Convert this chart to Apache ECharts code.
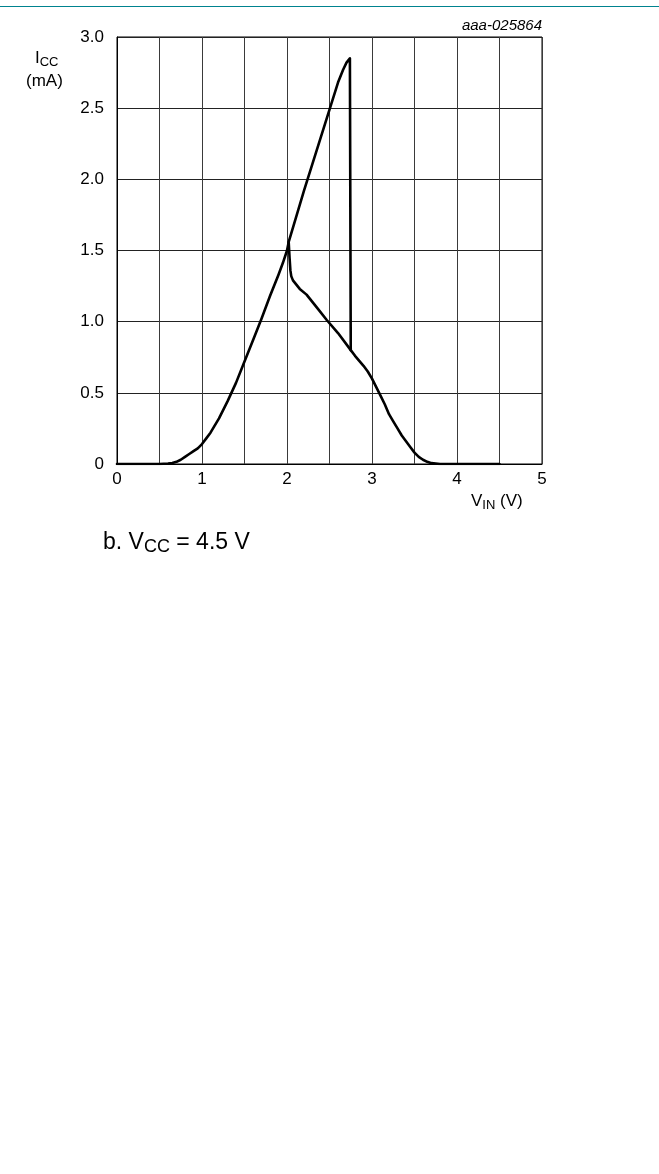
<!DOCTYPE html>
<html>
<head>
<meta charset="utf-8">
<script src="https://cdn.jsdelivr.net/npm/echarts@6/dist/echarts.min.js"></script>
<style>
  html, body { margin: 0; padding: 0; background: #fff; }
  #chart { width: 659px; height: 1174px; }
</style>
</head>
<body>
<div id="chart"></div>
<script>
// V_IN (V) / I_CC (mA), rising sweep incl. peak, drop and falling tail
const sweepV = [0, 0.5, 0.6, 0.65, 0.7, 0.75, 0.8, 0.85, 0.9, 0.95, 1.0, 1.05, 1.1, 1.2, 1.3, 1.4, 1.5, 1.6, 1.7, 1.8, 1.9, 1.95, 2.0, 2.02,
  2.1, 2.2, 2.3, 2.4, 2.5, 2.6, 2.66, 2.7, 2.74, 2.75, 2.75, 2.8, 2.9, 2.95, 3.0, 3.05, 3.1, 3.15, 3.2, 3.25, 3.3, 3.35, 3.4, 3.45, 3.5,
  3.55, 3.6, 3.65, 3.7, 3.8, 4.5]
const sweepI = [0, 0, 0.003, 0.007, 0.015, 0.03, 0.05, 0.07, 0.09, 0.11, 0.14, 0.18, 0.22, 0.32, 0.44, 0.57, 0.72, 0.87, 1.02, 1.18, 1.33, 1.41, 1.5, 1.56,
  1.72, 1.92, 2.11, 2.3, 2.49, 2.68, 2.77, 2.82, 2.85, 2.84, 0.8, 0.76, 0.69, 0.65, 0.6, 0.54, 0.48, 0.42, 0.35, 0.3, 0.25, 0.2, 0.16, 0.12, 0.08,
  0.05, 0.03, 0.015, 0.006, 0, 0]

// return branch between the drop and the rising sweep
const returnV = [2.75, 2.6, 2.47, 2.35, 2.23, 2.15, 2.11, 2.07, 2.05, 2.04, 2.03, 2.02]
const returnI = [0.8, 0.92, 1.01, 1.1, 1.19, 1.23, 1.26, 1.29, 1.32, 1.36, 1.45, 1.56]

const xTickLabels = ['0', '1', '2', '3', '4', '5']
const yTickLabels = ['0', '0.5', '1.0', '1.5', '2.0', '2.5', '3.0']

const font = 'Arial, "Liberation Sans", sans-serif'

function pairs(xs, ys) {
  return xs.map((x, i) => [x, ys[i]])
}

const chart = echarts.init(document.getElementById('chart'), null, { renderer: 'canvas' })

chart.setOption({
  animation: false,
  backgroundColor: '#fff',
  grid: {
    left: 117, right: 117, top: 37, bottom: 710,
    show: true, borderColor: '#000', borderWidth: 1
  },
  xAxis: {
    type: 'value', min: 0, max: 5, interval: 0.5,
    axisLine: { show: true, lineStyle: { color: '#000', width: 1 } },
    axisTick: { show: false },
    splitLine: { show: true, lineStyle: { color: '#3a3a3a', width: 1 } },
    axisLabel: {
      margin: 7, color: '#000', fontSize: 17, fontFamily: font,
      formatter: v => (Math.abs(v - Math.round(v)) < 1e-6 ? xTickLabels[Math.round(v)] : '')
    }
  },
  yAxis: {
    type: 'value', min: 0, max: 3, interval: 0.5,
    axisLine: { show: true, lineStyle: { color: '#000', width: 1 } },
    axisTick: { show: false },
    splitLine: { show: true, lineStyle: { color: '#222', width: 1 } },
    axisLabel: {
      margin: 13, color: '#000', fontSize: 17, fontFamily: font,
      formatter: v => yTickLabels[Math.round(v * 2)]
    }
  },
  series: [
    {
      type: 'line', data: pairs(sweepV, sweepI), showSymbol: false, smooth: false,
      lineStyle: { color: '#000', width: 2.6, join: 'round', cap: 'round' }
    },
    {
      type: 'line', data: pairs(returnV, returnI), showSymbol: false, smooth: false,
      lineStyle: { color: '#000', width: 2.6, join: 'round', cap: 'round' }
    }
  ],
  graphic: [
    {
      type: 'line', shape: { x1: 0, y1: 6.5, x2: 659, y2: 6.5 },
      style: { stroke: '#00838f', lineWidth: 1.2 }
    },
    {
      type: 'text', left: 35, top: 50,
      style: {
        text: '{m|I}{s|CC}', fontFamily: font,
        rich: {
          m: { fontSize: 17, fill: '#000', fontFamily: font },
          s: { fontSize: 13, fill: '#000', fontFamily: font, padding: [8, 0, 0, 0] }
        }
      }
    },
    {
      type: 'text', left: 26, top: 73,
      style: { text: '(mA)', fontSize: 17, fill: '#000', fontFamily: font }
    },
    {
      type: 'text', left: 471, top: 493,
      style: {
        text: '{m|V}{s|IN}{m| (V)}', fontFamily: font,
        rich: {
          m: { fontSize: 17, fill: '#000', fontFamily: font },
          s: { fontSize: 13, fill: '#000', fontFamily: font, padding: [8, 0, 0, 0] }
        }
      }
    },
    {
      type: 'text', right: 117, top: 18,
      style: { text: 'aaa-025864', fontSize: 15, fontStyle: 'italic', fill: '#000', fontFamily: font }
    },
    {
      type: 'text', left: 103, top: 531,
      style: {
        text: '{m|b. V}{s|CC}{m| = 4.5 V}', fontFamily: font,
        rich: {
          m: { fontSize: 23, fill: '#000', fontFamily: font },
          s: { fontSize: 18, fill: '#000', fontFamily: font, padding: [10, 0, 0, 0] }
        }
      }
    }
  ]
})
</script>
</body>
</html>
